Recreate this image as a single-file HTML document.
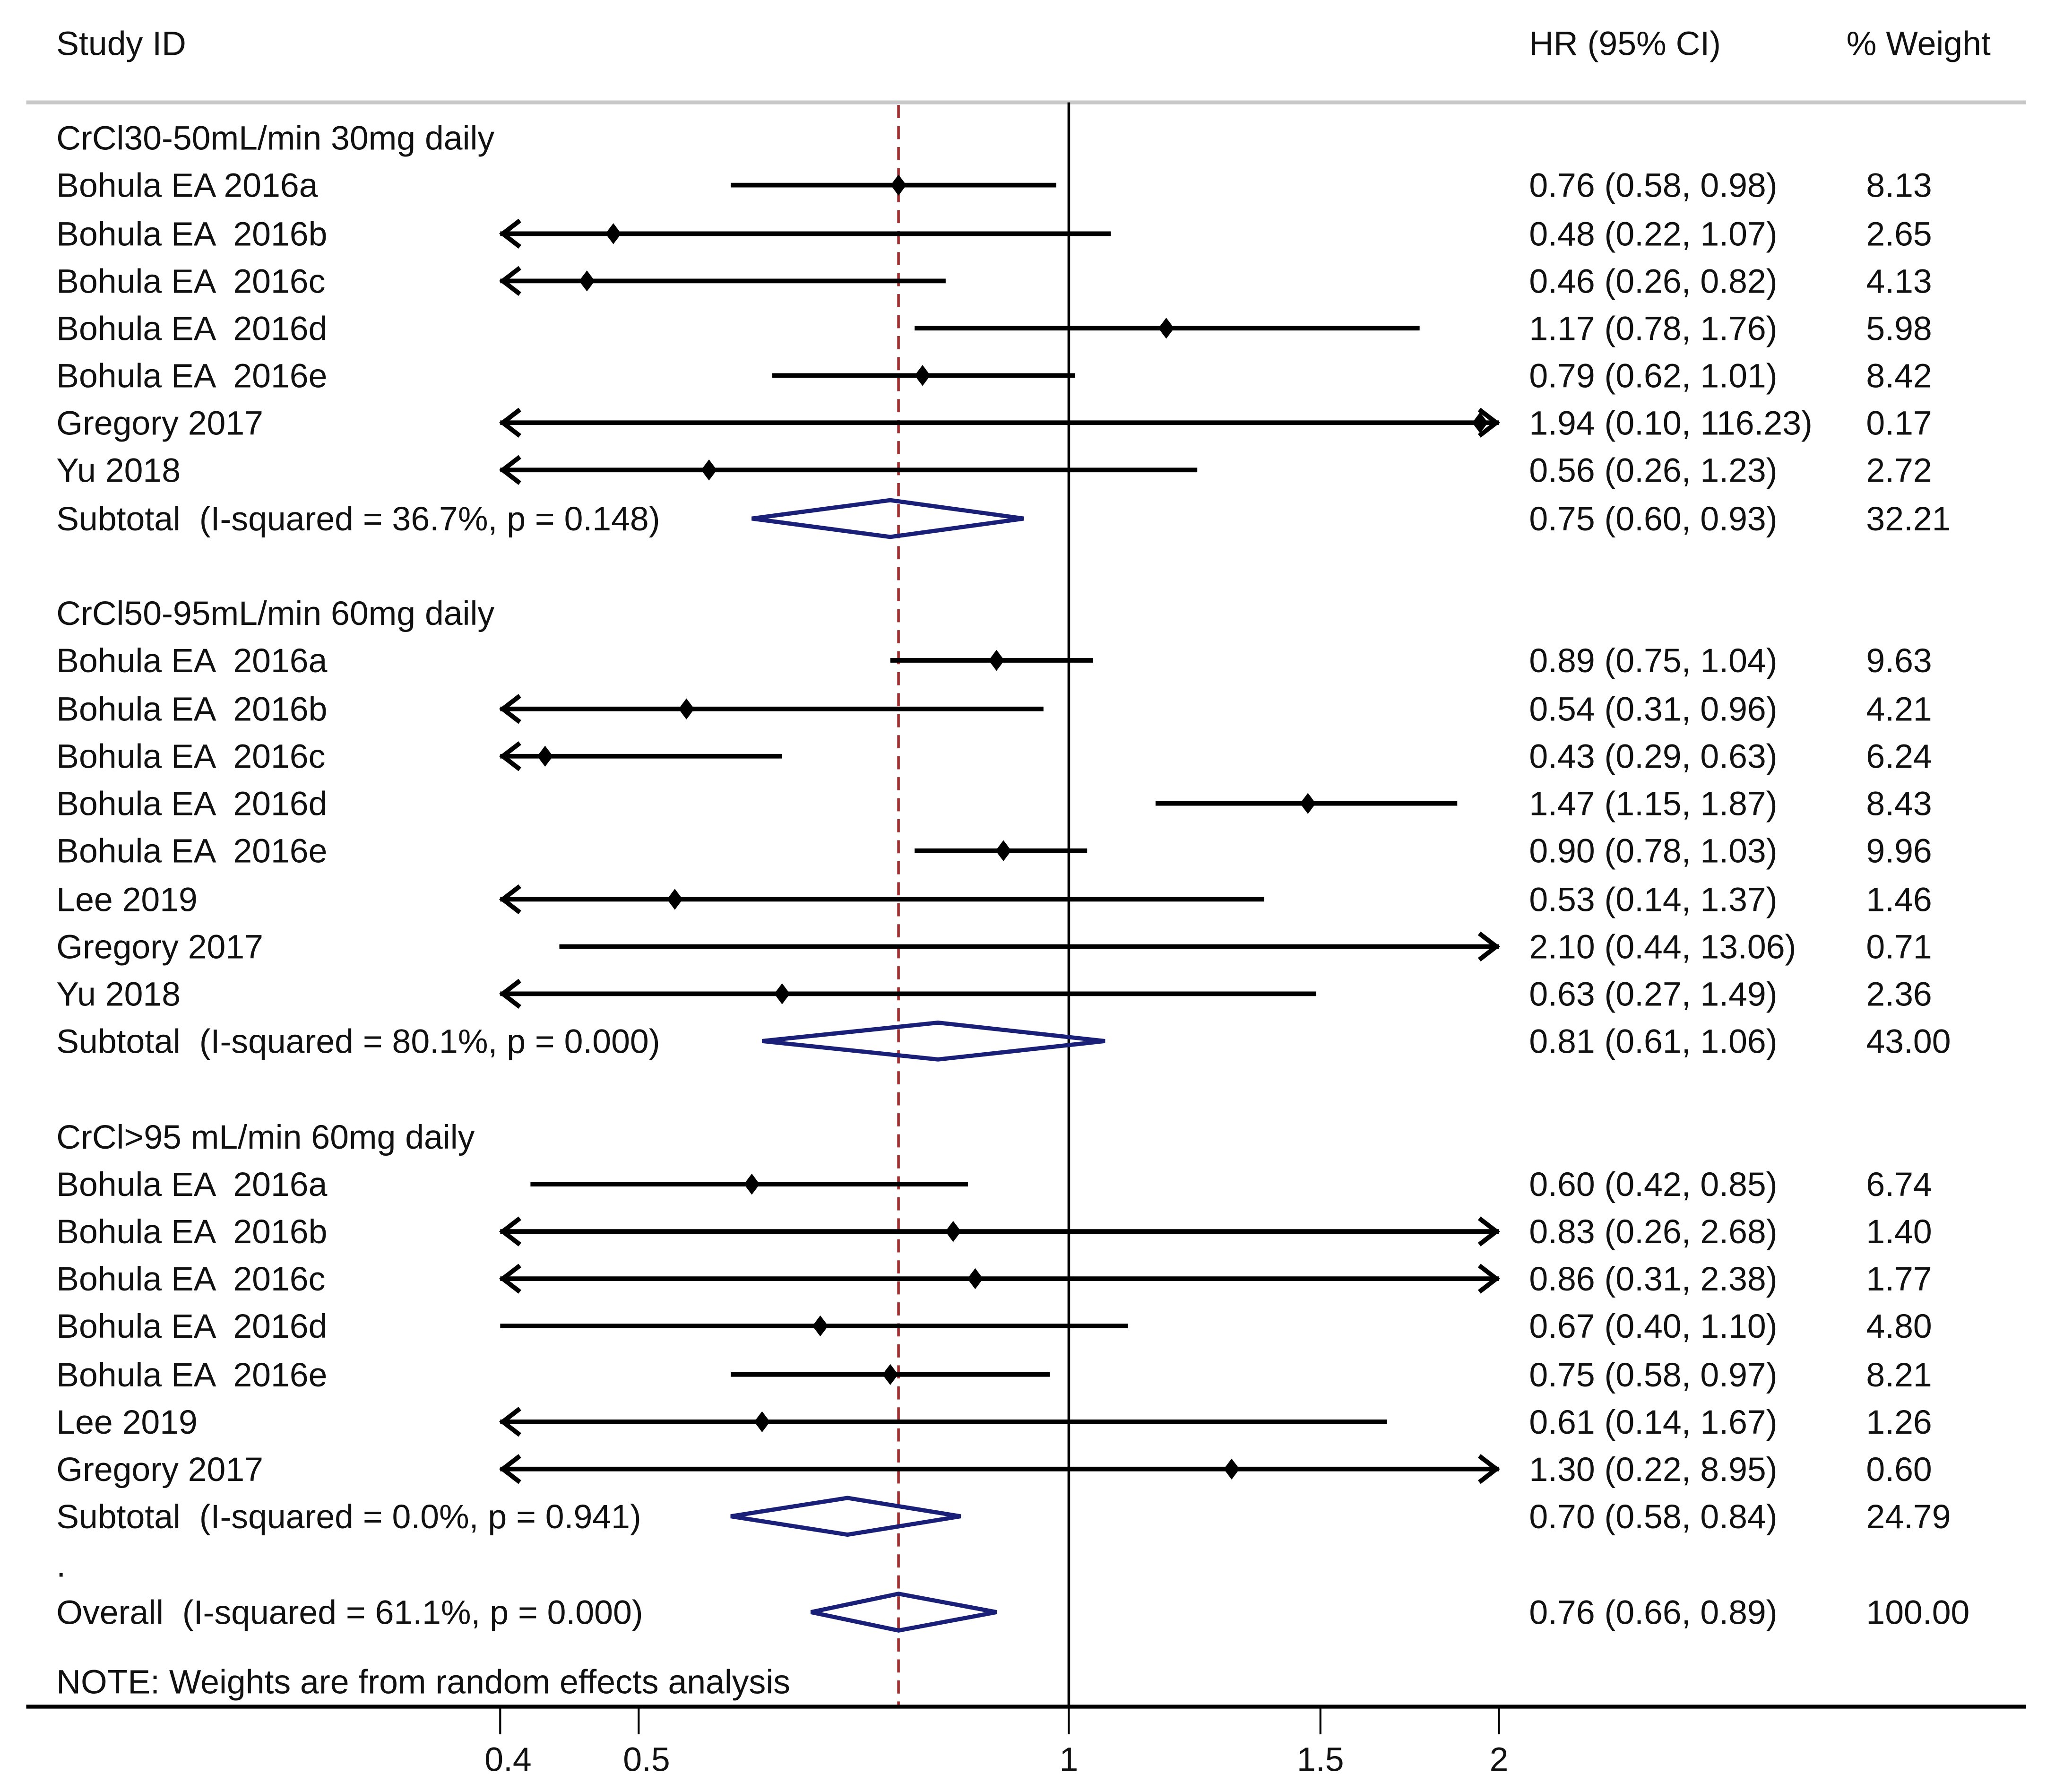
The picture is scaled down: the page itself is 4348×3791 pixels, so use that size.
<!DOCTYPE html>
<html><head><meta charset="utf-8"><style>
html,body{margin:0;padding:0;background:#fff;}
svg{display:block;}
text{font-family:"Liberation Sans",Arial,sans-serif;font-size:25.8px;fill:#111;white-space:pre;}
</style></head><body>
<svg id="chart" width="4348" height="3791" viewBox="0 0 1567 1365" preserveAspectRatio="none" xmlns="http://www.w3.org/2000/svg" xml:space="preserve">
<text x="43" y="42">Study ID</text>
<text x="1166" y="42">HR (95% CI)</text>
<text x="1408" y="42">% Weight</text>
<line x1="20" y1="78" x2="1545" y2="78" stroke="#c8c8c8" stroke-width="3"/>
<g id="marks"></g>
</svg>
<script>
const labels = ["CrCl30-50mL/min 30mg daily","Bohula EA 2016a","Bohula EA  2016b","Bohula EA  2016c","Bohula EA  2016d","Bohula EA  2016e","Gregory 2017","Yu 2018","Subtotal  (I-squared = 36.7%, p = 0.148)","",
"CrCl50-95mL/min 60mg daily","Bohula EA  2016a","Bohula EA  2016b","Bohula EA  2016c","Bohula EA  2016d","Bohula EA  2016e","Lee 2019","Gregory 2017","Yu 2018","Subtotal  (I-squared = 80.1%, p = 0.000)","",
"CrCl>95 mL/min 60mg daily","Bohula EA  2016a","Bohula EA  2016b","Bohula EA  2016c","Bohula EA  2016d","Bohula EA  2016e","Lee 2019","Gregory 2017","Subtotal  (I-squared = 0.0%, p = 0.941)",".","Overall  (I-squared = 61.1%, p = 0.000)"];
const kinds = ["h","s","s","s","s","s","s","s","d","",
"h","s","s","s","s","s","s","s","s","d","",
"h","s","s","s","s","s","s","s","d","","o"];
const hr = [null,0.76,0.48,0.46,1.17,0.79,1.94,0.56,0.75,null,
null,0.89,0.54,0.43,1.47,0.90,0.53,2.10,0.63,0.81,null,
null,0.60,0.83,0.86,0.67,0.75,0.61,1.30,0.70,null,0.76];
const lo = [null,0.58,0.22,0.26,0.78,0.62,0.10,0.26,0.60,null,
null,0.75,0.31,0.29,1.15,0.78,0.14,0.44,0.27,0.61,null,
null,0.42,0.26,0.31,0.40,0.58,0.14,0.22,0.58,null,0.66];
const hi = [null,0.98,1.07,0.82,1.76,1.01,116.23,1.23,0.93,null,
null,1.04,0.96,0.63,1.87,1.03,1.37,13.06,1.49,1.06,null,
null,0.85,2.68,2.38,1.10,0.97,1.67,8.95,0.84,null,0.89];
const weights = ["","8.13","2.65","4.13","5.98","8.42","0.17","2.72","32.21","",
"","9.63","4.21","6.24","8.43","9.96","1.46","0.71","2.36","43.00","",
"","6.74","1.40","1.77","4.80","8.21","1.26","0.60","24.79","","100.00"];
const ticks = [0.4,0.5,1,1.5,2];
const tickLabels = ["0.4","0.5","1","1.5","2"];
const overallEst = 0.76;

const NS="http://www.w3.org/2000/svg";
const g=document.getElementById('marks');
const X0=815, K=473.2, XMIN=0.4, XMAX=2;
function xs(v){return X0+K*Math.log(v);}
function el(t,a){const e=document.createElementNS(NS,t);for(const k in a)e.setAttribute(k,a[k]);g.appendChild(e);return e;}
const rowY=[105,141,178,214,250,286,322,358,395,431,467,503,540,576,612,648,685,721,757,793,830,866,902,938,974,1010,1047,1083,1119,1155,1192,1228];
const fmt=v=>v.toFixed(2);
let l=el('line',{x1:xs(1),y1:78,x2:xs(1),y2:1300,stroke:'#000','stroke-width':2});


l=el('line',{x1:xs(overallEst),y1:80,x2:xs(overallEst),y2:1300,stroke:'#a0302f','stroke-width':2,'stroke-dasharray':'10,6'});


labels.forEach((lab,i)=>{
  const y=rowY[i];
  if(lab){const t=el('text',{x:43,y:y+9});t.textContent=lab;
    
    }
  if(hr[i]==null)return;
  const h=el('text',{x:1166,y:y+9});
  h.textContent=fmt(hr[i])+' ('+fmt(lo[i])+', '+fmt(hi[i])+')';
  
  
  const w=el('text',{x:1423,y:y+9});w.textContent=weights[i];
  
  
  if(kinds[i]==='s'){
    const a=xs(Math.max(lo[i],XMIN)), b=xs(Math.min(hi[i],XMAX));
    const ln=el('line',{x1:a,y1:y,x2:b,y2:y,stroke:'#000','stroke-width':3.5});
    
    
    if(lo[i]<XMIN){const p=el('polyline',{points:(a+15)+','+(y-10)+' '+(a+2)+','+y+' '+(a+15)+','+(y+10),fill:'none',stroke:'#000','stroke-width':3.5});
      
      }
    if(hi[i]>XMAX){const p=el('polyline',{points:(b-15)+','+(y-10)+' '+(b-2)+','+y+' '+(b-15)+','+(y+10),fill:'none',stroke:'#000','stroke-width':3.5});
      
      }
    if(hr[i]<=XMAX){const c=xs(hr[i]);
      const m=el('polygon',{points:(c-6)+','+y+' '+c+','+(y-8)+' '+(c+6)+','+y+' '+c+','+(y+8),fill:'#000'});
      
      }
  } else {
    const a=xs(lo[i]),b=xs(hi[i]),c=xs(hr[i]);
    const d=el('polygon',{points:a+','+y+' '+c+','+(y-14)+' '+b+','+y+' '+c+','+(y+14),fill:'none',stroke:'#1a1f78','stroke-width':3.2});
    
    
  }
});
const note=el('text',{x:43,y:1290});note.textContent='NOTE: Weights are from random effects analysis';


const ax=el('line',{x1:20,y1:1300,x2:1545,y2:1300,stroke:'#000','stroke-width':3});


ticks.forEach((t,i)=>{
  const x=xs(t);
  const tk=el('line',{x1:x,y1:1300,x2:x,y2:1321,stroke:'#000','stroke-width':1.5});
  
  
  const tl=el('text',{x:x+(i<2?6:0),y:1349,'text-anchor':'middle'});tl.textContent=tickLabels[i];
  
  
});
</script>
</body></html>
